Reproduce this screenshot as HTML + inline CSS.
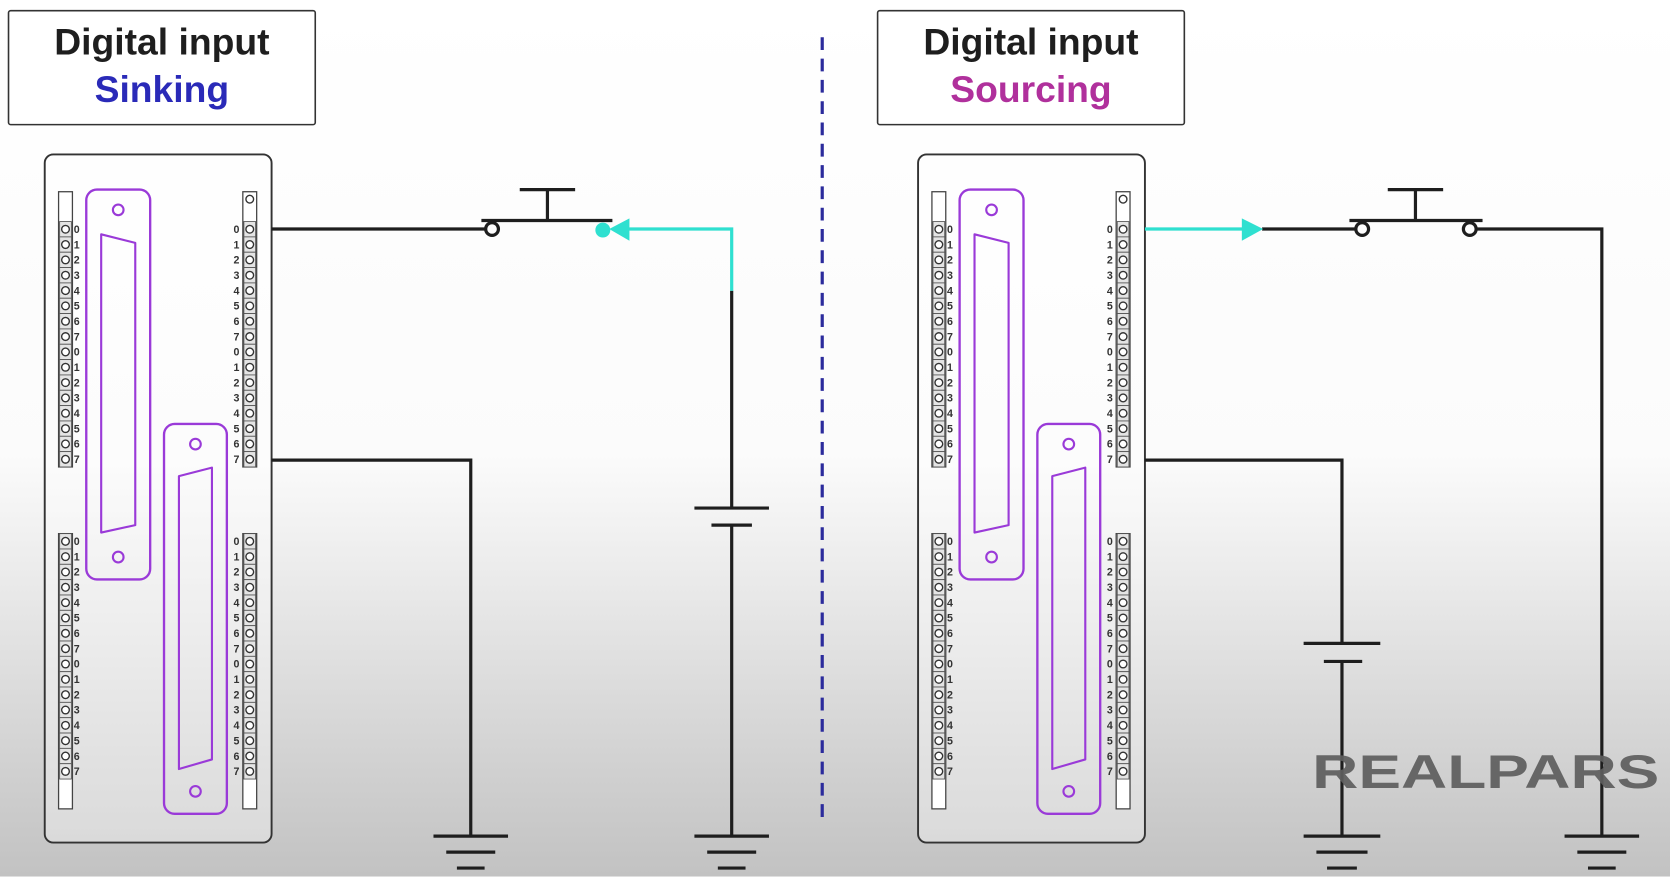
<!DOCTYPE html>
<html><head><meta charset="utf-8"><style>
html,body{margin:0;padding:0;width:1670px;height:883px;overflow:hidden;background:#fff}
svg{display:block}
</style></head><body>
<svg id="s" width="1670" height="883" viewBox="0 0 1568 829" preserveAspectRatio="none" xmlns="http://www.w3.org/2000/svg">
<defs><linearGradient id="bg" x1="0" y1="0" x2="0" y2="1">
<stop offset="0" stop-color="#ffffff"/><stop offset="0.52" stop-color="#fbfbfb"/><stop offset="1" stop-color="#c2c2c2"/></linearGradient></defs>
<rect x="0" y="0" width="1568" height="823" fill="url(#bg)"/>
<rect x="0" y="823" width="1568" height="6" fill="#fff"/>
<line x1="772" y1="35" x2="772" y2="775" stroke="#2b2b9c" stroke-width="3" stroke-dasharray="12 8"/>
<g>
<rect x="8" y="10" width="288" height="107" fill="#fff" stroke="#333" stroke-width="1.5" rx="2"/>
<text x="152" y="51" text-anchor="middle" font-family="'Liberation Sans',sans-serif" font-weight="bold" font-size="35" fill="#1e1e1e">Digital input</text>
<text x="152" y="96" text-anchor="middle" font-family="'Liberation Sans',sans-serif" font-weight="bold" font-size="35" fill="#2a2ab8">Sinking</text>
</g>
<g>
<rect x="824" y="10" width="288" height="107" fill="#fff" stroke="#333" stroke-width="1.5" rx="2"/>
<text x="968" y="51" text-anchor="middle" font-family="'Liberation Sans',sans-serif" font-weight="bold" font-size="35" fill="#1e1e1e">Digital input</text>
<text x="968" y="96" text-anchor="middle" font-family="'Liberation Sans',sans-serif" font-weight="bold" font-size="35" fill="#b0309c">Sourcing</text>
</g>
<g id="modules"></g>
<g fill="none" stroke="#1e1e1e" stroke-width="3">
<polyline points="255,215 456,215"/>
<circle cx="462" cy="215" r="6" fill="#fff"/>
<line x1="452" y1="207" x2="575" y2="207"/>
<line x1="514" y1="207" x2="514" y2="178"/><line x1="488" y1="178" x2="540" y2="178"/>
<polyline points="687,273 687,477"/>
<line x1="652" y1="477" x2="722" y2="477"/><line x1="668" y1="493" x2="706" y2="493"/>
<line x1="687" y1="493" x2="687" y2="785"/>
<line x1="652" y1="785" x2="722" y2="785"/><line x1="664" y1="800" x2="710" y2="800"/><line x1="674" y1="815" x2="700" y2="815"/>
<polyline points="255,432 442,432 442,785"/>
<line x1="407" y1="785" x2="477" y2="785"/><line x1="419" y1="800" x2="465" y2="800"/><line x1="429" y1="815" x2="455" y2="815"/>
</g>
<g>
<polyline points="590,215 687,215 687,273" fill="none" stroke="#2fe0d0" stroke-width="3"/>
<circle cx="566" cy="216" r="7" fill="#2fe0d0"/>
<polygon points="572,215 591,205 591,226" fill="#2fe0d0"/>
</g>
<g fill="none" stroke="#1e1e1e" stroke-width="3">
<line x1="1185" y1="215" x2="1273" y2="215"/>
<circle cx="1279" cy="215" r="6" fill="#fff"/>
<line x1="1267" y1="207" x2="1392" y2="207"/>
<line x1="1329" y1="207" x2="1329" y2="178"/><line x1="1303" y1="178" x2="1355" y2="178"/>
<circle cx="1380" cy="215" r="6" fill="#fff"/>
<polyline points="1386,215 1504,215 1504,785"/>
<line x1="1469" y1="785" x2="1539" y2="785"/><line x1="1481" y1="800" x2="1527" y2="800"/><line x1="1491" y1="815" x2="1517" y2="815"/>
<polyline points="1075,432 1260,432 1260,604"/>
<line x1="1224" y1="604" x2="1296" y2="604"/><line x1="1243" y1="621" x2="1279" y2="621"/>
<line x1="1260" y1="621" x2="1260" y2="785"/>
<line x1="1224" y1="785" x2="1296" y2="785"/><line x1="1236" y1="800" x2="1284" y2="800"/><line x1="1246" y1="815" x2="1274" y2="815"/>
</g>
<g>
<line x1="1075" y1="215" x2="1168" y2="215" stroke="#2fe0d0" stroke-width="3"/>
<polygon points="1186,215 1166,205 1166,226" fill="#2fe0d0"/>
</g>
<text x="1232" y="740" font-family="'Liberation Sans',sans-serif" font-weight="bold" font-size="44" fill="#5e5e5e" opacity="0.92" textLength="326" lengthAdjust="spacingAndGlyphs">REALPARS</text>
</svg>
<script>
const NS='http://www.w3.org/2000/svg';
const labels=['0','1','2','3','4','5','6','7','0','1','2','3','4','5','6','7'];
const g=document.getElementById('modules');
function el(t,a,p){const e=document.createElementNS(NS,t);for(const k in a)e.setAttribute(k,a[k]);(p||g).appendChild(e);return e;}
function strip(p,x,y0,rightLabels,topBlank,bottomBlank){
  const pitch=14.4;
  const h=topBlank*14+16*pitch+bottomBlank*14;
  el('rect',{x:x,y:y0,width:13,height:h,fill:'#fff',stroke:'#444','stroke-width':1.2},p);
  for(let i=0;i<16;i++){
    const cy=y0+topBlank*14+pitch*i+pitch/2;
    el('rect',{x:x+1,y:cy-pitch/2,width:11,height:pitch,fill:'#e4e4e4',stroke:'#555','stroke-width':0.8},p);
    el('circle',{cx:x+6.5,cy:cy,r:3.6,fill:'#fff',stroke:'#333','stroke-width':1.3},p);
    const t=el('text',{x:rightLabels?x+17:x-6,y:cy+3.5,'font-size':10,'font-family':'Liberation Sans,sans-serif','font-weight':'bold',fill:'#333','text-anchor':'middle'},p);
    t.textContent=labels[i];
  }
}
function conn(p,x,y,w,h,tri){
  el('rect',{x:x,y:y,width:w,height:h,rx:10,fill:'none',stroke:'#9a3ad8','stroke-width':2.2},p);
  el('circle',{cx:x+w/2,cy:y+19,r:5,fill:'none',stroke:'#9a3ad8','stroke-width':2},p);
  el('circle',{cx:x+w/2,cy:y+h-21,r:5,fill:'none',stroke:'#9a3ad8','stroke-width':2},p);
  el('polygon',{points:tri,fill:'none',stroke:'#9a3ad8','stroke-width':2,'stroke-linejoin':'round'},p);
}
[0,820].forEach((dx,i)=>{
  const p=el('g',{transform:'translate('+dx+',0)'});
  
  
  el('rect',{x:42,y:145,width:213,height:646,rx:8,fill:'rgba(255,255,255,0.35)',stroke:'#333','stroke-width':1.8},p);
  strip(p,55,180,true,2,0);
  strip(p,55,501,true,0,2);
  strip(p,228,180,false,2,0);
  el('circle',{cx:234.5,cy:187,r:3.6,fill:'#fff',stroke:'#333','stroke-width':1.3},p);
  strip(p,228,501,false,0,2);
  conn(p,81,178,60,366,'95,220 127,228 127,493 95,500');
  conn(p,154,398,59,366,'168,447 199,439 199,713 168,722');
});
</script>
</body></html>
